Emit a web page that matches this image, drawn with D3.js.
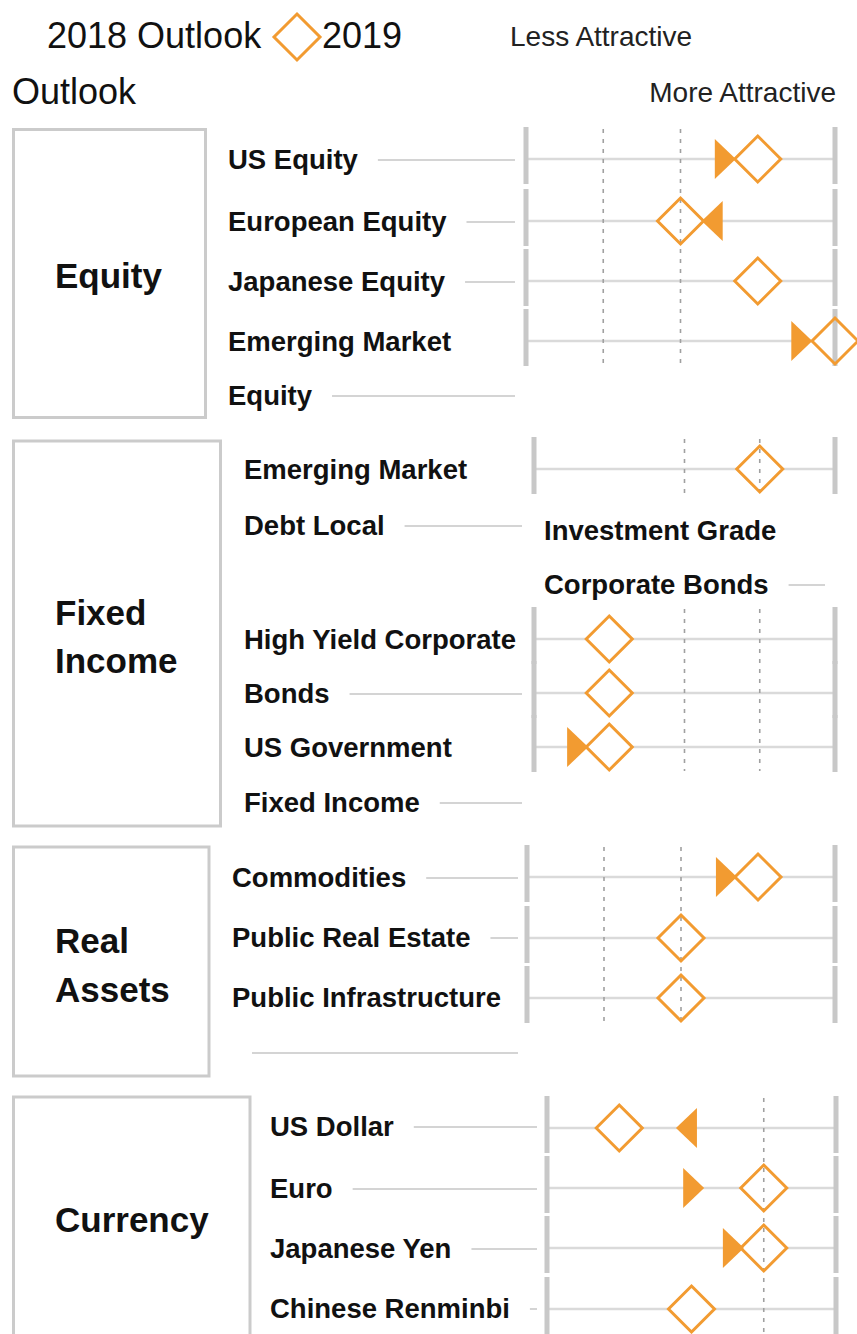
<!DOCTYPE html>
<html><head><meta charset="utf-8">
<script src="https://cdn.jsdelivr.net/npm/d3@7/dist/d3.min.js"></script>
<style>
html,body{margin:0;padding:0;background:#fff;}
svg{display:block;}
text{font-family:"Liberation Sans",Arial,Helvetica,sans-serif;}
</style></head><body><div id="chart"></div>
<script>
// ---------------- DATA ----------------
const legendLabels = ["2018 Outlook", "2019 Outlook"];
const axisEndLabels = ["Less Attractive", "More Attractive"];
const sectionTitles = ["Equity", "Fixed Income", "Real Assets", "Currency"];
const scaleTicks = [0, 1, 2, 3, 4];

const equityAssets = ["US Equity", "European Equity", "Japanese Equity", "Emerging Market Equity"];
const equityLabelLines = [["US Equity"], ["European Equity"], ["Japanese Equity"], ["Emerging Market", "Equity"]];
const equity2019 = [3, 2, 3, 4];
const equity2018 = [2.58, 2.41, null, 3.57];
const equityRefTicks = [1, 2];

const fixedIncomeAssets = ["Emerging Market Debt Local", "Investment Grade Corporate Bonds", "High Yield Corporate Bonds", "US Government Fixed Income"];
const fixedIncomeLabelLines = [["Emerging Market", "Debt Local"], ["Investment Grade", "Corporate Bonds"], ["High Yield Corporate", "Bonds"], ["US Government", "Fixed Income"]];
const fixedIncome2019 = [3, 1, 1, 1];
const fixedIncome2018 = [null, null, null, 0.58];
const fixedIncomeRefTicks = [2, 3];

const realAssets = ["Commodities", "Public Real Estate", "Public Infrastructure"];
const realAssetsLabelLines = [["Commodities"], ["Public Real Estate"], ["Public Infrastructure"]];
const realAssets2019 = [3, 2, 2];
const realAssets2018 = [2.59, null, null];
const realAssetsRefTicks = [1, 2];

const currencies = ["US Dollar", "Euro", "Japanese Yen", "Chinese Renminbi"];
const currencyLabelLines = [["US Dollar"], ["Euro"], ["Japanese Yen"], ["Chinese Renminbi"]];
const currency2019 = [1, 3, 3, 2];
const currency2018 = [1.93, 2.03, 2.58, null];
const currencyRefTicks = [3];

// ---------------- LAYOUT ----------------
const W = 857, H = 1334;
const ORANGE = "#f29b31", BAR = "#c8c8c8", ROWLINE = "#dadada", LEADER = "#d4d4d4",
      DOT = "#a0a0a0", BOX = "#cbcbcb", INK = "#111";

const sections = [
  { title: sectionTitles[0], assets: equityAssets, lines: equityLabelLines, v19: equity2019, v18: equity2018, ref: equityRefTicks,
    box: [13.5, 129.5, 192, 288], titleY: [288],
    labelX: [228, 228, 228, 228], labelY: [[159], [221], [281], [341, 395]],
    rows: [159, 221, 281, 341], axis: [526, 835], leaderEnd: [515, 515, 515, 515] },
  { title: sectionTitles[1], assets: fixedIncomeAssets, lines: fixedIncomeLabelLines, v19: fixedIncome2019, v18: fixedIncome2018, ref: fixedIncomeRefTicks,
    box: [13.5, 441, 207, 385], titleY: [625, 673],
    labelX: [244, 544, 244, 244], labelY: [[469, 525], [530, 584], [639, 693], [747, 802]],
    rows: [469, 639, 693, 747], axis: [534, 835], leaderEnd: [522, 825, 522, 522] },
  { title: sectionTitles[2], assets: realAssets, lines: realAssetsLabelLines, v19: realAssets2019, v18: realAssets2018, ref: realAssetsRefTicks,
    box: [13.5, 847, 195.5, 229], titleY: [953, 1002],
    labelX: [232, 232, 232], labelY: [[877], [937], [997]],
    rows: [877, 938, 998], axis: [527, 835], leaderEnd: [518, 518, 518],
    extraLeader: [252, 518, 1053] },
  { title: sectionTitles[3], assets: currencies, lines: currencyLabelLines, v19: currency2019, v18: currency2018, ref: currencyRefTicks,
    box: [13.5, 1097, 236.5, 320], titleY: [1232],
    labelX: [270, 270, 270, 270], labelY: [[1126], [1188], [1248], [1308]],
    rows: [1128, 1188, 1248, 1309], axis: [547, 836], leaderEnd: [537, 537, 537, 537] }
];

const svg = d3.select("#chart").append("svg").attr("width", W).attr("height", H);

function diamondPath(cx, cy, r) {
  const p = d3.path();
  p.moveTo(cx, cy - r); p.lineTo(cx + r, cy); p.lineTo(cx, cy + r); p.lineTo(cx - r, cy); p.closePath();
  return p.toString();
}
function trianglePath(cx, cy, dir) {
  const hw = 10.5, hh = 20, p = d3.path();
  p.moveTo(cx - dir * hw, cy - hh); p.lineTo(cx + dir * hw, cy); p.lineTo(cx - dir * hw, cy + hh); p.closePath();
  return p.toString();
}

// ---------------- HEADER ----------------
const hdr = svg.append("g");
hdr.append("text").attr("x", 47).attr("y", 48).attr("font-size", 36).attr("fill", INK).text(legendLabels[0]);
hdr.append("path").attr("d", diamondPath(297, 37, 23)).attr("fill", "none").attr("stroke", ORANGE).attr("stroke-width", 3);
const l19 = legendLabels[1].split(" ");
hdr.append("text").attr("x", 322).attr("y", 48).attr("font-size", 36).attr("fill", INK).text(l19[0]);
hdr.append("text").attr("x", 12).attr("y", 104).attr("font-size", 36).attr("fill", INK).text(l19[1]);
hdr.append("text").attr("x", 510).attr("y", 46).attr("font-size", 28).attr("fill", "#222").text(axisEndLabels[0]);
hdr.append("text").attr("x", 836).attr("y", 102).attr("font-size", 28).attr("fill", "#222").attr("text-anchor", "end").text(axisEndLabels[1]);

// ---------------- SECTIONS ----------------
sections.forEach(sec => {
  const g = svg.append("g");
  const x = d3.scaleLinear().domain(d3.extent(scaleTicks)).range(sec.axis);
  const y = d3.scaleOrdinal().domain(sec.assets).range(sec.rows);

  // category box
  g.append("rect").attr("x", sec.box[0]).attr("y", sec.box[1]).attr("width", sec.box[2]).attr("height", sec.box[3])
    .attr("fill", "none").attr("stroke", BOX).attr("stroke-width", 3);
  const tLines = sec.titleY.length > 1 ? sec.title.split(" ") : [sec.title];
  tLines.forEach((t, i) => {
    g.append("text").attr("x", 55).attr("y", sec.titleY[i]).attr("font-size", 35).attr("font-weight", "bold")
      .attr("fill", INK).text(t);
  });

  // item labels + leaders
  sec.lines.forEach((lines, i) => {
    let lastW = 0;
    lines.forEach((t, k) => {
      const txt = g.append("text").attr("x", sec.labelX[i]).attr("y", sec.labelY[i][k] + 10)
        .attr("font-size", 27.5).attr("font-weight", "bold").attr("fill", INK).text(t);
      lastW = txt.node().getComputedTextLength();
    });
    const ly = sec.labelY[i][lines.length - 1] + 1;
    const x0 = sec.labelX[i] + lastW + 20, x1 = sec.leaderEnd[i];
    if (x1 > x0) {
      g.append("line").attr("x1", x0).attr("x2", x1).attr("y1", ly).attr("y2", ly)
        .attr("stroke", LEADER).attr("stroke-width", 2);
    }
  });
  if (sec.extraLeader) {
    const [a, b, yy] = sec.extraLeader;
    g.append("line").attr("x1", a).attr("x2", b).attr("y1", yy).attr("y2", yy).attr("stroke", LEADER).attr("stroke-width", 2);
  }

  // row lines
  g.selectAll(".rowline").data(sec.assets).join("line")
    .attr("x1", x(0)).attr("x2", x(4)).attr("y1", d => y(d)).attr("y2", d => y(d))
    .attr("stroke", ROWLINE).attr("stroke-width", 2.5);

  // diamond backgrounds
  g.selectAll(".dbg").data(sec.assets).join("path")
    .attr("d", (d, i) => diamondPath(x(sec.v19[i]), y(d), 23)).attr("fill", "#fff");

  // dotted reference lines, per contiguous row group
  const groups = [];
  sec.rows.forEach((r, i) => {
    if (i > 0 && r - sec.rows[i - 1] < 64) groups[groups.length - 1][1] = r;
    else groups.push([r, r]);
  });
  groups.forEach(([a, b]) => {
    sec.ref.forEach(t => {
      g.append("line").attr("x1", x(t)).attr("x2", x(t)).attr("y1", a - 30).attr("y2", b + 24)
        .attr("stroke", DOT).attr("stroke-width", 1.6).attr("stroke-dasharray", "4,6");
    });
  });

  // end bars
  sec.assets.forEach(d => {
    [0, 4].forEach(t => {
      g.append("rect").attr("x", x(t) - 2.5).attr("width", 5).attr("y", y(d) - 32).attr("height", 57).attr("fill", BAR);
    });
  });

  // 2019 diamonds
  g.selectAll(".d19").data(sec.assets).join("path")
    .attr("d", (d, i) => diamondPath(x(sec.v19[i]), y(d), 23))
    .attr("fill", "none").attr("stroke", ORANGE).attr("stroke-width", 3).attr("stroke-linejoin", "miter");

  // 2018 triangles (pointing toward 2019 outlook)
  g.selectAll(".t18").data(sec.assets.filter((d, i) => sec.v18[i] != null)).join("path")
    .attr("d", d => {
      const i = sec.assets.indexOf(d);
      const dir = sec.v19[i] > sec.v18[i] ? 1 : -1;
      return trianglePath(x(sec.v18[i]), y(d), dir);
    })
    .attr("fill", ORANGE);
});
</script></body></html>
